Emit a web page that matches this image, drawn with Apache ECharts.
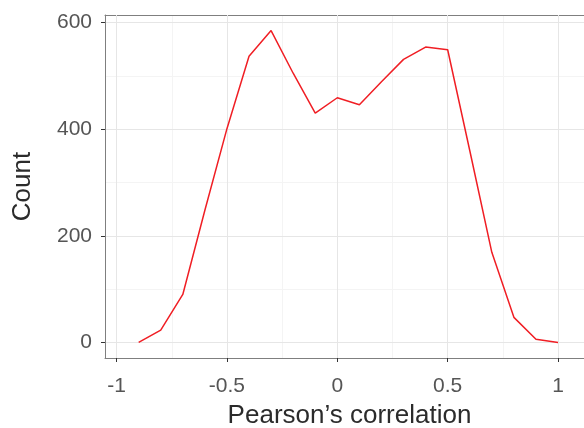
<!DOCTYPE html>
<html>
<head>
<meta charset="utf-8">
<script src="https://cdn.jsdelivr.net/npm/echarts@6/dist/echarts.min.js"></script>
<style>html,body{margin:0;padding:0;background:#fff}#c{width:584px;height:428px}</style>
</head>
<body>
<div id="c"></div>
<script>
const xValues = [-0.9, -0.8, -0.7, -0.6, -0.5, -0.4, -0.3, -0.2, -0.1, 0.0, 0.1, 0.2, 0.3, 0.4, 0.5, 0.6, 0.7, 0.8, 0.9, 1.0];
const counts  = [0, 23, 90, 248, 401, 537, 585, 505, 430, 459, 446, 489, 531, 554, 549, 360, 169, 47, 6, 0];
const xMajorTicks = [-1, -0.5, 0, 0.5, 1];
const xTickLabels = ['-1', '-0.5', '0', '0.5', '1'];
const xMinorTicks = [-0.75, -0.25, 0.25, 0.75];
const yMajorTicks = [0, 200, 400, 600];
const yTickLabels = ['0', '200', '400', '600'];
const yMinorTicks = [100, 300, 500];
const xTitle = 'Pearson\u2019s correlation';
const yTitle = 'Count';

const xMin = -1.0525, xMax = 1.1176;
const yMin = -29.25, yMax = 614.25;
const font = 'Liberation Sans, Helvetica, Arial, sans-serif';
const borderLine = {show: true, onZero: false, lineStyle: {color: '#7f7f7f', width: 1}};

const chart = echarts.init(document.getElementById('c'), null, {renderer: 'canvas'});
const lblMapX = {}; xMajorTicks.forEach((v, i) => lblMapX[v] = xTickLabels[i]);
const lblMapY = {}; yMajorTicks.forEach((v, i) => lblMapY[v] = yTickLabels[i]);

chart.setOption({
  animation: false,
  backgroundColor: '#ffffff',
  grid: {left: 105, top: 15, right: 0, bottom: 70, show: false},
  xAxis: [
    {type: 'value', min: xMin, max: xMax, position: 'top', z: 1,
     axisLine: borderLine,
     axisTick: {show: false, customValues: xMinorTicks},
     axisLabel: {show: false, customValues: xMinorTicks},
     splitLine: {show: true, lineStyle: {color: '#f4f4f4', width: 1}}},
    {type: 'value', min: xMin, max: xMax, position: 'bottom', z: 2,
     axisLine: borderLine,
     axisTick: {show: true, length: 4, customValues: xMajorTicks, lineStyle: {color: '#333333', width: 1}},
     axisLabel: {show: true, customValues: xMajorTicks, margin: 18, color: '#555555', fontSize: 21, fontFamily: font,
                 formatter: v => lblMapX[v] !== undefined ? lblMapX[v] : ''},
     splitLine: {show: true, lineStyle: {color: '#e6e6e6', width: 1}}}
  ],
  yAxis: [
    {type: 'value', min: yMin, max: yMax, position: 'right', z: 1,
     axisLine: {show: false, onZero: false},
     axisTick: {show: false, customValues: yMinorTicks},
     axisLabel: {show: false, customValues: yMinorTicks},
     splitLine: {show: true, lineStyle: {color: '#f4f4f4', width: 1}}},
    {type: 'value', min: yMin, max: yMax, position: 'left', z: 2,
     axisLine: borderLine,
     axisTick: {show: true, length: 4, customValues: yMajorTicks, lineStyle: {color: '#333333', width: 1}},
     axisLabel: {show: true, customValues: yMajorTicks, margin: 13, color: '#555555', fontSize: 21, fontFamily: font,
                 formatter: v => lblMapY[v] !== undefined ? lblMapY[v] : ''},
     splitLine: {show: true, lineStyle: {color: '#e6e6e6', width: 1}}}
  ],
  series: [{
    type: 'line', xAxisIndex: 1, yAxisIndex: 1, z: 5,
    data: xValues.map((x, i) => [x, counts[i]]),
    symbol: 'none', smooth: false,
    lineStyle: {color: '#f01e24', width: 1.5}
  }],
  graphic: [
    {type: 'text', x: 349.5, y: 416, style: {text: xTitle, fill: '#2b2b2b', fontSize: 26, fontFamily: font, textAlign: 'center', textVerticalAlign: 'middle'}},
    {type: 'text', x: 23, y: 186.5, rotation: Math.PI / 2, style: {text: yTitle, fill: '#2b2b2b', fontSize: 26, fontFamily: font, textAlign: 'center', textVerticalAlign: 'middle'}}
  ]
});
</script>
</body>
</html>
